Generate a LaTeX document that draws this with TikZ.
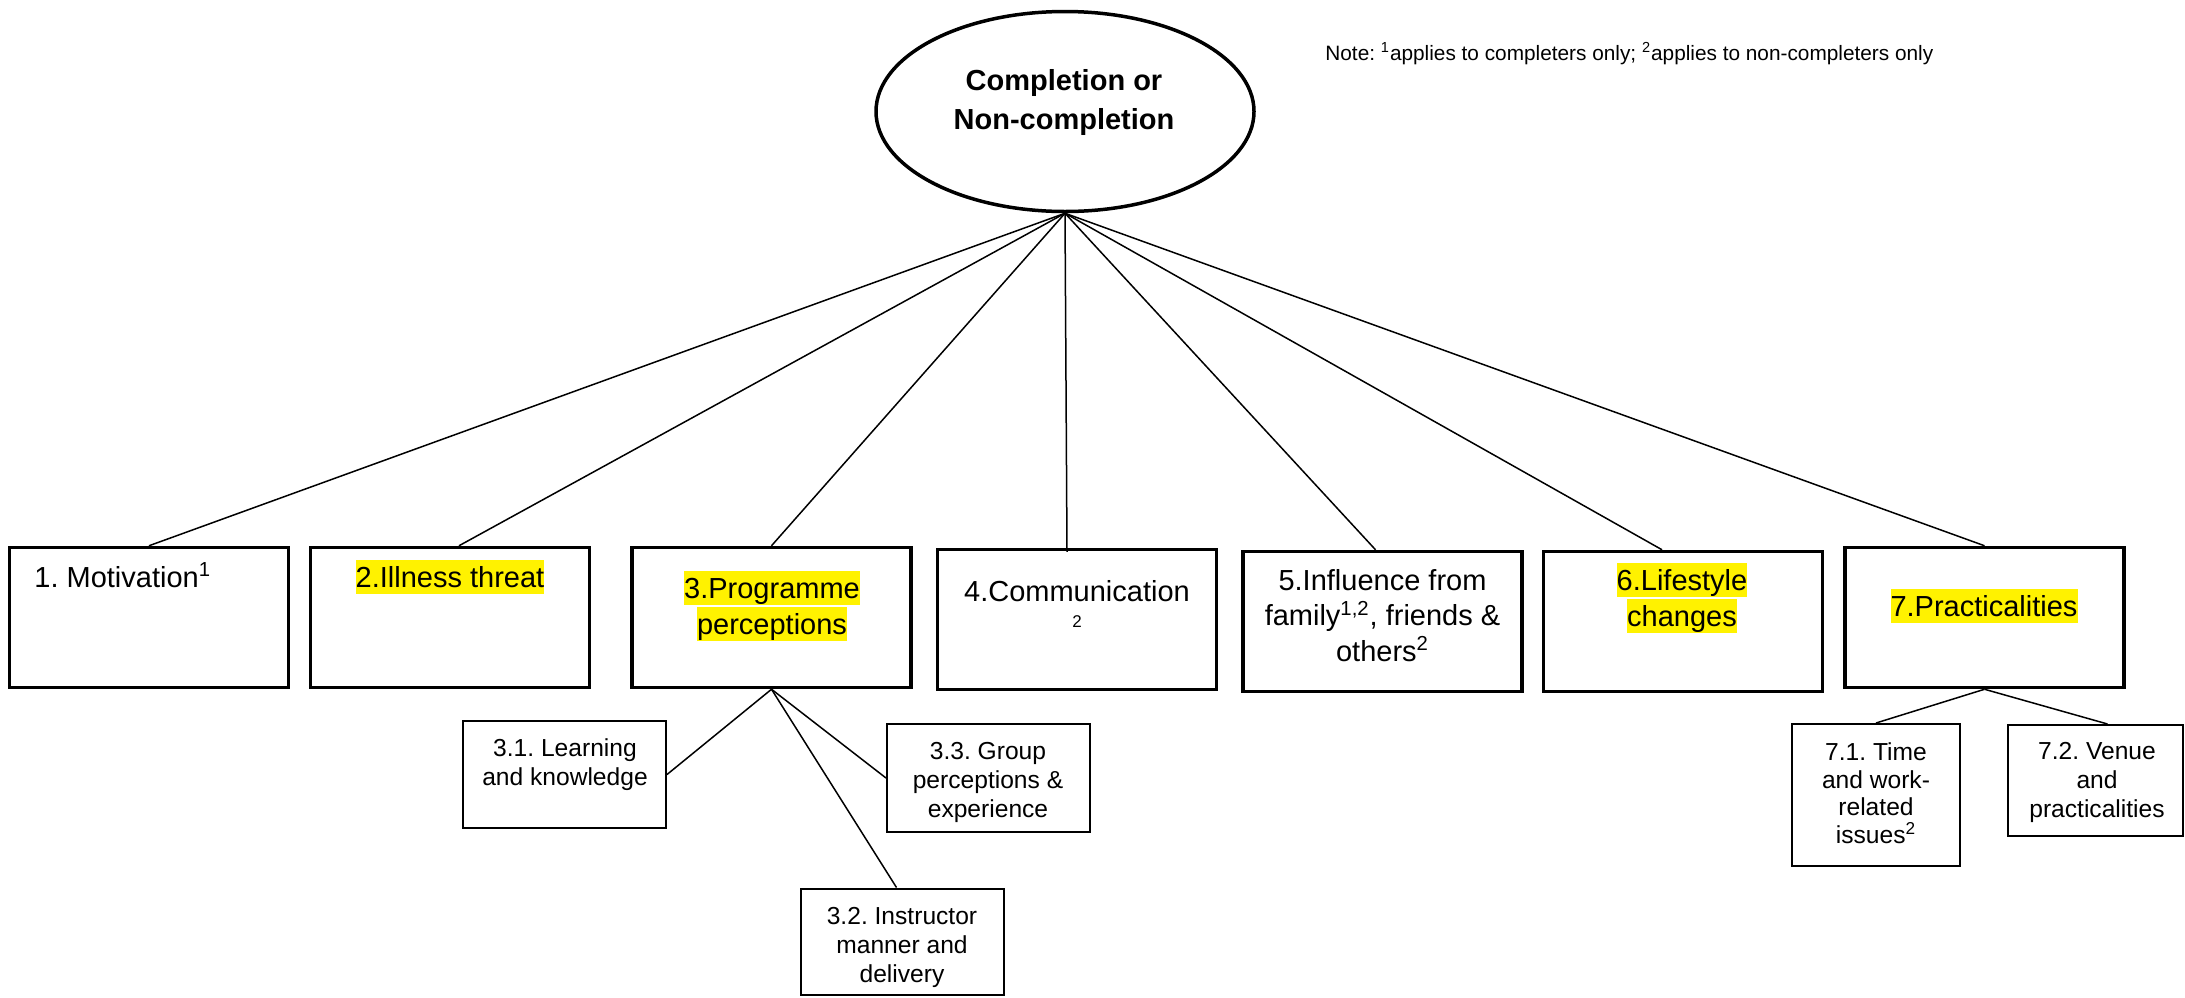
\documentclass[tikz,border=0pt]{standalone}
\usepackage{fontspec}
\setmainfont{Liberation Sans}
\usetikzlibrary{shapes.geometric,calc}
\frenchspacing
\newcommand\mystrut{\rule[-3.5pt]{0pt}{17pt}}
\newcommand\hlt[1]{{\setlength{\fboxsep}{0pt}\colorbox{yellow}{\mystrut #1}}}
\tikzset{
  bigbox/.style={draw, line width=1.75pt, inner sep=0pt, minimum width=139.5pt, minimum height=70pt},
  subbox/.style={draw, line width=1pt, inner sep=0pt},
  conn/.style={line width=0.75pt},
  bigtxt/.style={inner sep=0pt, align=center, font=\fontsize{14.5pt}{18pt}\selectfont},
  subtxt/.style={inner sep=0pt, align=center, anchor=north, font=\fontsize{12.3pt}{14.5pt}\selectfont},
}
\begin{document}
\begin{tikzpicture}[x=0.5pt,y=-0.5pt]
\useasboundingbox (0,0) rectangle (2185,997);

% central ellipse
\node[ellipse, draw, line width=1.75pt, minimum width=189pt, minimum height=100pt, inner sep=0pt] (top) at (1065,111.5) {};
\node[align=center, inner sep=0pt, font=\bfseries\fontsize{14.5pt}{19.5pt}\selectfont] (toptxt) at (1064,102.5) {Completion or\\Non-completion};

% note
\node[anchor=base west, inner sep=0pt, font=\fontsize{10.4pt}{12pt}\selectfont] (note) at (1325,60) {Note: \textsuperscript{1}applies to completers only; \textsuperscript{2}applies to non-completers only};

% main boxes
\node[bigbox] (b1) at (149,617.5) {};
\node[bigbox] (b2) at (450,617.5) {};
\node[bigbox] (b3) at (771.5,617.5) {};
\node[bigbox] (b4) at (1077,619.5) {};
\node[bigbox] (b5) at (1382.5,621.5) {};
\node[bigbox] (b6) at (1683,621.5) {};
\node[bigbox] (b7) at (1984.5,617.5) {};

\node[bigtxt, anchor=north west] (b1t) at (34,560) {\mystrut 1. Motivation\textsuperscript{1}};
\node[bigtxt, anchor=north] (b2t) at (450,560) {\hlt{2.Illness threat}};
\node[bigtxt, anchor=north] (b3t) at (772,571) {\hlt{3.Programme}\\\hlt{perceptions}};
\node[bigtxt, anchor=north] (b4t) at (1077,574) {\mystrut 4.Communication\\[-5pt]{\fontsize{8.5pt}{10pt}\selectfont 2}};
\node[bigtxt, anchor=north, font=\fontsize{14.5pt}{17.75pt}\selectfont] (b5t) at (1382.5,563) {\mystrut 5.Influence from\\family\textsuperscript{1,2}, friends \&\\others\textsuperscript{2}};
\node[bigtxt, anchor=north] (b6t) at (1682,563) {\hlt{6.Lifestyle}\\\hlt{changes}};
\node[bigtxt, anchor=north] (b7t) at (1984,589) {\hlt{7.Practicalities}};

% sub boxes
\node[subbox, minimum width=101.5pt, minimum height=53.5pt] (s31) at (564.5,774.5) {};
\node[subbox, minimum width=101.5pt, minimum height=54pt] (s33) at (988.5,778) {};
\node[subbox, minimum width=101.5pt, minimum height=53pt] (s32) at (902.5,941.5) {};
\node[subbox, minimum width=84pt, minimum height=71pt] (s71) at (1876,795) {};
\node[subbox, minimum width=87.5pt, minimum height=55.5pt] (s72) at (2095.5,780.5) {};

\node[subtxt] (s31t) at (565,738) {3.1. Learning\\and knowledge};
\node[subtxt] (s33t) at (988,742) {3.3. Group\\perceptions \&\\experience};
\node[subtxt] (s32t) at (902,907) {3.2. Instructor\\manner and\\delivery};
\node[subtxt, font=\fontsize{12.3pt}{13.9pt}\selectfont] (s71t) at (1876,742) {7.1. Time\\and work-\\related\\issues\textsuperscript{2}};
\node[subtxt] (s72t) at (2097,742) {7.2. Venue\\and\\practicalities};

% connectors
\draw[conn] (top.south) -- (b1.north);
\draw[conn] (top.south) -- ($(b2.north)+(9,0)$);
\draw[conn] (top.south) -- (b3.north);
\draw[conn] (top.south) -- ($(b4.north)+(-10,4)$);
\draw[conn] (top.south) -- ($(b5.north)+(-7,0)$);
\draw[conn] (top.south) -- ($(b6.north)+(-21,0)$);
\draw[conn] (top.south) -- (b7.north);

\draw[conn] (b3.south) -- (s31.east);
\draw[conn] (b3.south) -- (s33.west);
\draw[conn] (b3.south) -- ($(s32.north)+(-6,0)$);
\draw[conn] (b7.south) -- (s71.north);
\draw[conn] (b7.south) -- ($(s72.north)+(12,0)$);
\end{tikzpicture}
\end{document}
